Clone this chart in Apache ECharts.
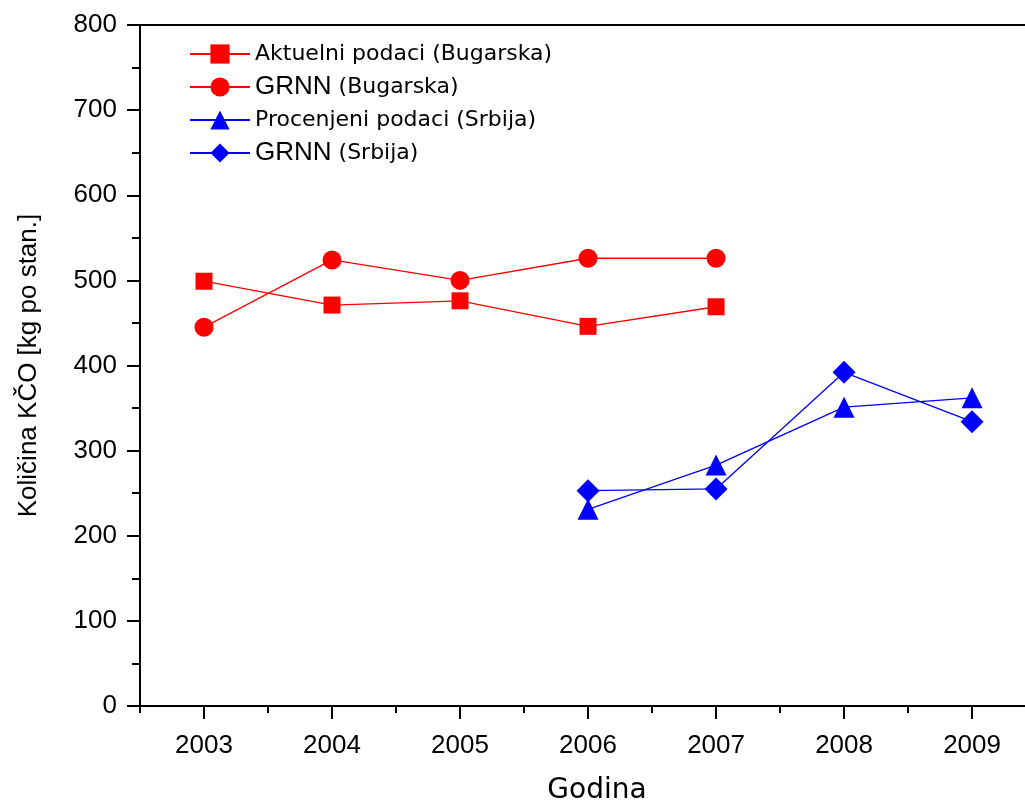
<!DOCTYPE html>
<html>
<head>
<meta charset="utf-8">
<title>Količina KČO</title>
<script src="https://cdn.jsdelivr.net/npm/echarts@6/dist/echarts.min.js"></script>
<style>
  html, body { margin: 0; padding: 0; background: #ffffff; }
  #chart { width: 1025px; height: 802px; }
</style>
</head>
<body>
<div id="chart"></div>
<script>
// data
var yearsBg = [2003, 2004, 2005, 2006, 2007];
var yearsSr = [2006, 2007, 2008, 2009];
var bgActual = [499, 471, 476, 446, 469];     // Aktuelni podaci (Bugarska)
var bgGrnn = [445, 524, 500, 526, 526];       // GRNN (Bugarska)
var srEstimated = [231, 283, 351, 362];       // Procenjeni podaci (Srbija)
var srGrnn = [253, 255, 392, 334];            // GRNN (Srbija)

// tick labels
var majorYears = [2003, 2004, 2005, 2006, 2007, 2008, 2009];
var minorYears = [2002.5, 2003.5, 2004.5, 2005.5, 2006.5, 2007.5, 2008.5];

var names = ['Aktuelni podaci (Bugarska)', 'GRNN (Bugarska)', 'Procenjeni podaci (Srbija)', 'GRNN (Srbija)'];

// x range: the frame runs past the right edge of the picture
var xMin = 2002.5;
var xMax = 2009.64;

// pair years with values
function pairs(xs, ys) {
  var out = [];
  for (var i = 0; i < xs.length; i++) {
    out.push([xs[i], ys[i]]);
  }
  return out;
}

var chart = echarts.init(document.getElementById('chart'));

function makeSeries(name, xs, ys, color, symbol, size) {
  return {
    name: name,
    type: 'line',
    xAxisIndex: 0,
    yAxisIndex: 0,
    data: pairs(xs, ys),
    symbol: symbol,
    symbolSize: size,
    showAllSymbol: true,
    animation: false,
    lineStyle: { color: color, width: 1.3 },
    itemStyle: { color: color }
  };
}

var option = {
  backgroundColor: '#ffffff',
  animation: false,
  grid: { left: 140, top: 25, bottom: 96, right: -29, outerBoundsMode: 'none', containLabel: false },
  legend: {
    left: 184,
    top: 38,
    orient: 'vertical',
    itemWidth: 60,
    itemHeight: 24,
    itemGap: 9,
    data: names,
    textStyle: {
      color: '#000000',
      fontFamily: 'DejaVu Sans',
      fontSize: 22,
      lineHeight: 22,
      rich: {
        big: { fontFamily: 'Liberation Sans', fontSize: 26, lineHeight: 22, color: '#000000' },
        small: { fontFamily: 'DejaVu Sans', fontSize: 22, lineHeight: 22, color: '#000000' }
      }
    },
    formatter: function (name) {
      if (name.indexOf('GRNN') === 0) {
        return '{big|GRNN} {small|' + name.substring(5) + '}';
      }
      return name;
    }
  },
  xAxis: [
    {
      // main bottom axis with year labels
      type: 'value',
      min: xMin,
      max: xMax,
      position: 'bottom',
      name: 'Godina',
      nameLocation: 'middle',
      nameGap: 71,
      nameTextStyle: { color: '#000000', fontFamily: 'DejaVu Sans', fontSize: 28 },
      axisLine: { show: true, onZero: false, lineStyle: { color: '#000000', width: 2 } },
      axisTick: { show: true, inside: false, length: 13, customValues: majorYears, lineStyle: { color: '#000000', width: 2 } },
      axisLabel: {
        show: true,
        customValues: majorYears,
        margin: 27,
        color: '#000000',
        fontFamily: 'Liberation Sans',
        fontSize: 26,
        formatter: function (v) { return String(v); }
      },
      splitLine: { show: false }
    },
    {
      // half-year minor ticks
      type: 'value',
      min: xMin,
      max: xMax,
      position: 'bottom',
      axisLine: { show: false },
      axisTick: { show: true, inside: false, length: 7, customValues: minorYears, lineStyle: { color: '#000000', width: 2 } },
      axisLabel: { show: false },
      splitLine: { show: false }
    },
    {
      // top frame line
      type: 'value',
      min: xMin,
      max: xMax,
      position: 'top',
      axisLine: { show: true, onZero: false, lineStyle: { color: '#000000', width: 2 } },
      axisTick: { show: false },
      axisLabel: { show: false },
      splitLine: { show: false }
    }
  ],
  yAxis: [
    {
      type: 'value',
      min: 0,
      max: 800,
      interval: 100,
      position: 'left',
      name: 'Količina KČO [kg po stan.]',
      nameLocation: 'middle',
      nameGap: 98,
      nameTextStyle: { color: '#000000', fontFamily: 'Liberation Sans', fontSize: 26 },
      axisLine: { show: true, onZero: false, lineStyle: { color: '#000000', width: 2 } },
      axisTick: { show: true, inside: false, length: 13, lineStyle: { color: '#000000', width: 2 } },
      minorTick: { show: true, splitNumber: 2, length: 8, lineStyle: { color: '#000000', width: 2 } },
      axisLabel: { color: '#000000', fontFamily: 'Liberation Sans', fontSize: 26, margin: 23 },
      splitLine: { show: false },
      minorSplitLine: { show: false }
    }
  ],
  series: [
    makeSeries(names[0], yearsBg, bgActual, '#ff0000', 'rect', 17),
    makeSeries(names[1], yearsBg, bgGrnn, '#ff0000', 'circle', 19),
    makeSeries(names[2], yearsSr, srEstimated, '#0000ff', 'triangle', 21),
    makeSeries(names[3], yearsSr, srGrnn, '#0000ff', 'diamond', 23)
  ]
};

chart.setOption(option);

window.addEventListener('resize', function () {
  chart.resize();
});
</script>
</body>
</html>
